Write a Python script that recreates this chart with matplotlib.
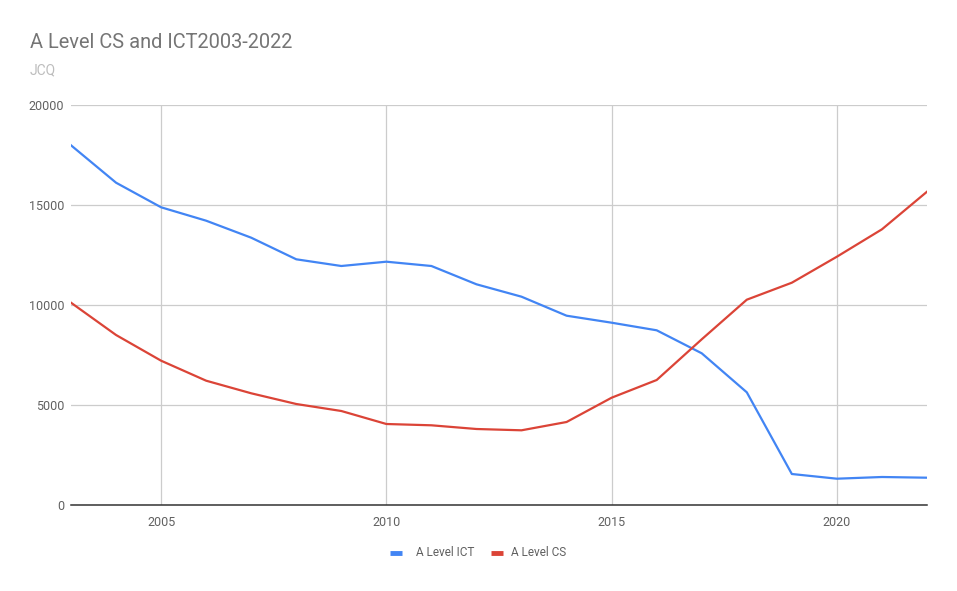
import matplotlib
matplotlib.use("Agg")
import matplotlib.pyplot as plt
from matplotlib.lines import Line2D

plt.rcParams['font.family'] = ['Roboto', 'DejaVu Sans']

years = list(range(2003, 2023))
ict = [18000, 16130, 14900, 14230, 13380, 12300, 11965, 12180, 11965, 11050,
       10430, 9480, 9130, 8750, 7600, 5650, 1565, 1330, 1415, 1380]
cs = [10130, 8515, 7230, 6230, 5600, 5065, 4715, 4065, 4000, 3815,
      3750, 4165, 5380, 6265, 8300, 10280, 11130, 12430, 13800, 15680]
series_names = ["A Level ICT", "A Level CS"]
colors = ["#4285F4", "#DB4437"]
xticks = [2005, 2010, 2015, 2020]
yticks = [0, 5000, 10000, 15000, 20000]

W, H = 957, 591
fig = plt.figure(figsize=(W/100, H/100), dpi=100)
ax = fig.add_axes([71/W, 1-505.3/H, (927-71)/W, (505.3-105.3)/H])

ax.plot(years, ict, color=colors[0], lw=1.6, solid_joinstyle='round', zorder=3)
ax.plot(years, cs, color=colors[1], lw=1.6, solid_joinstyle='round', zorder=3)

ax.set_xlim(2003, 2022)
ax.set_ylim(0, 20000)
ax.set_xticks(xticks)
ax.set_yticks(yticks)
ax.grid(True, color="#cccccc", lw=0.9, zorder=0)
for s in ['top', 'right', 'left']:
    ax.spines[s].set_visible(False)
ax.spines['bottom'].set_color('#333333')
ax.spines['bottom'].set_linewidth(1.1)
ax.spines['bottom'].set_zorder(4)
ax.tick_params(axis='both', length=0, labelsize=9, labelcolor='#616161')
ax.tick_params(axis='x', pad=8)
ax.tick_params(axis='y', pad=5)

fig.text(30/W, 1-42/H, "A Level CS and ICT2003-2022", fontsize=14.4, color="#757575",
         ha='left', va='center')
fig.text(30/W, 1-70/H, "JCQ", fontsize=10, color="#bdbdbd", ha='left', va='center')

# legend drawn at fixed figure positions
leg_y = 1 - 553/H
handle_x = [(390, 402), (491, 503)]
text_x = [416, 511.5]
for (x0, x1), tx, c, name in zip(handle_x, text_x, colors, series_names):
    fig.add_artist(Line2D([x0/W, x1/W], [leg_y, leg_y], color=c, lw=3.5,
                          solid_capstyle='butt', transform=fig.transFigure))
    fig.text(tx/W, leg_y, name, fontsize=8.5, color='#616161', ha='left', va='center')

fig.savefig("out.png", dpi=100)
